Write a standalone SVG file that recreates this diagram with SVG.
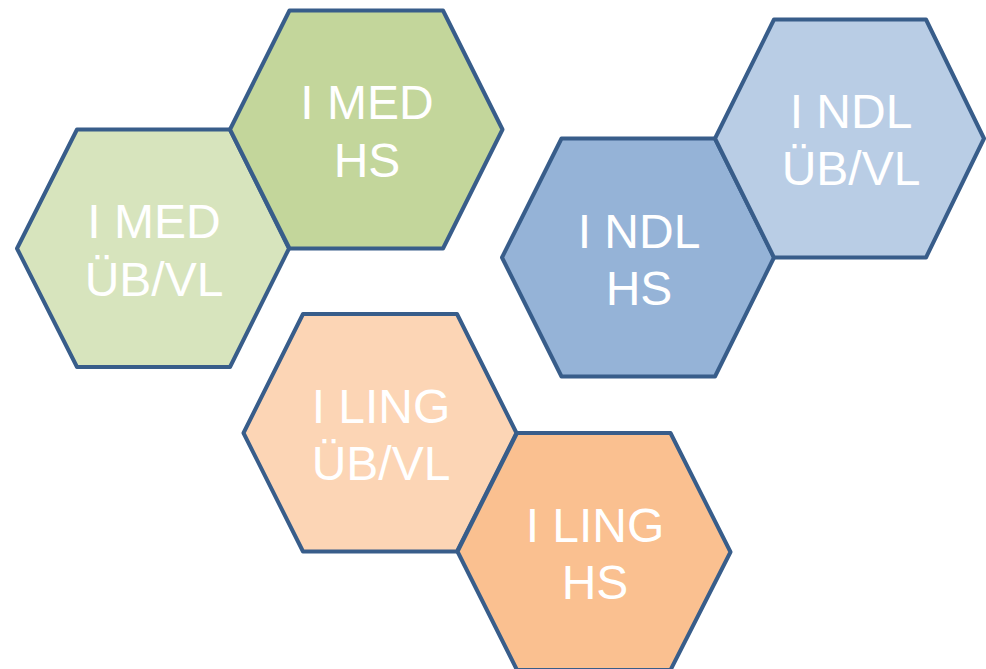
<svg xmlns="http://www.w3.org/2000/svg" width="986" height="669" viewBox="0 0 986 669">
<style>
.hex{stroke:#385D8A;stroke-width:4;stroke-linejoin:round}
.lbl{font-family:"Liberation Sans",Arial,sans-serif;font-size:48px;fill:#FFFFFF;text-anchor:middle}
</style>
<rect width="986" height="669" fill="#FFFFFF"/>
<g id="connectors"></g>
<g id="med-ubvl">
<polygon class="hex" fill="#D7E4BD" points="17,248.5 77,129.5 230,129.5 289,248.5 230,367 77,367"/>
<text class="lbl" x="154" y="238">I MED</text>
<text class="lbl" x="154" y="296">ÜB/VL</text>
</g>
<g id="med-hs">
<polygon class="hex" fill="#C3D69B" points="230,129.5 289.5,10.5 443,10.5 502.5,129.5 443,248.5 289.5,248.5"/>
<text class="lbl" x="367" y="119">I MED</text>
<text class="lbl" x="367" y="176.5">HS</text>
</g>
<g id="ndl-hs">
<polygon class="hex" fill="#95B3D7" points="502,257.5 561.5,138.5 715,138.5 774,257.5 715,376.5 561.5,376.5"/>
<text class="lbl" x="639" y="247.5">I NDL</text>
<text class="lbl" x="639" y="304.5">HS</text>
</g>
<g id="ndl-ubvl">
<polygon class="hex" fill="#B9CDE5" points="715,138.5 774,19.5 926,19.5 984,138.5 926,257.5 774,257.5"/>
<text class="lbl" x="851" y="128">I NDL</text>
<text class="lbl" x="851" y="185">ÜB/VL</text>
</g>
<g id="ling-ubvl">
<polygon class="hex" fill="#FCD5B5" points="243.5,433 303,314 457,314 516.5,433 457,551.5 303,551.5"/>
<text class="lbl" x="381" y="422.5">I LING</text>
<text class="lbl" x="381" y="480">ÜB/VL</text>
</g>
<g id="ling-hs">
<polygon class="hex" fill="#FAC090" points="457.5,551.5 517,433 670.5,433 730.5,552 670.5,670 517,670"/>
<text class="lbl" x="595" y="541.5">I LING</text>
<text class="lbl" x="595" y="599">HS</text>
</g>
</svg>
